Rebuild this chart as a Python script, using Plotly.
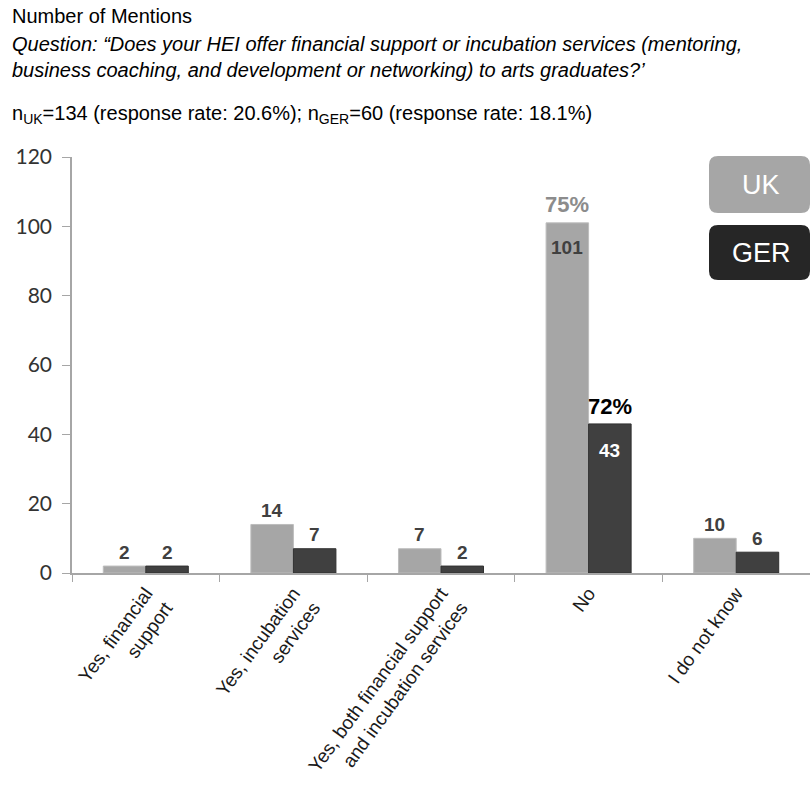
import plotly.graph_objects as go

categories = ["Yes, financial<br>support", "Yes, incubation<br>services",
              "Yes, both financial support<br>and incubation services", "No", "I do not know"]
uk_values = [2, 14, 7, 101, 10]
ger_values = [2, 7, 2, 43, 6]
pct_labels = {"No": ("75%", "72%")}
y_ticks = [0, 20, 40, 60, 80, 100, 120]

UK_COLOR = "#a6a6a6"
GER_COLOR = "#404040"
AXIS_COLOR = "#a6a6a6"

W, H = 810, 794
L, R, T, B = 72, 810, 157, 573


def px(x):
    return (x - L) / (R - L)


def py(y):
    return (B - y) / (B - T)


def rounded_rect(x0, y0, x1, y1, r):
    rx = r / (R - L)
    ry = r / (B - T)
    X0, X1 = px(x0), px(x1)
    Y0, Y1 = py(y0), py(y1)
    return (f"M {X0+rx},{Y0} L {X1-rx},{Y0} Q {X1},{Y0} {X1},{Y0-ry} "
            f"L {X1},{Y1+ry} Q {X1},{Y1} {X1-rx},{Y1} L {X0+rx},{Y1} "
            f"Q {X0},{Y1} {X0},{Y1+ry} L {X0},{Y0-ry} Q {X0},{Y0} {X0+rx},{Y0} Z")


fig = go.Figure()
fig.add_trace(go.Bar(
    x=categories, y=uk_values, name="UK",
    marker=dict(color=UK_COLOR, line=dict(color="#bdbdbd", width=1)),
))
fig.add_trace(go.Bar(
    x=categories, y=ger_values, name="GER",
    marker=dict(color=GER_COLOR, line=dict(color="#303030", width=1)),
))

annotations = []
bar_half = 21.3
LABEL_FONT = "Liberation Sans"
for c, u, g in zip(categories, uk_values, ger_values):
    if c in pct_labels:
        pu, pg = pct_labels[c]
        annotations += [
            dict(x=c, y=u, xref="x", yref="y", xshift=-bar_half, yshift=-25,
                 text=f"<b>{u}</b>", showarrow=False,
                 font=dict(family=LABEL_FONT, size=19, color="#404040")),
            dict(x=c, y=g, xref="x", yref="y", xshift=bar_half, yshift=-27,
                 text=f"<b>{g}</b>", showarrow=False,
                 font=dict(family=LABEL_FONT, size=19, color="white")),
            dict(x=c, y=u, xref="x", yref="y", xshift=-bar_half, yshift=18,
                 text=f"<b>{pu}</b>", showarrow=False,
                 font=dict(family=LABEL_FONT, size=22, color="#8c8c8c")),
            dict(x=c, y=g, xref="x", yref="y", xshift=bar_half, yshift=17,
                 text=f"<b>{pg}</b>", showarrow=False,
                 font=dict(family=LABEL_FONT, size=22, color="#000000")),
        ]
    else:
        for v, sh in ((u, -bar_half), (g, bar_half)):
            annotations.append(dict(
                x=c, y=v, xref="x", yref="y", xshift=sh, yshift=14, yanchor="middle",
                text=f"<b>{v}</b>", showarrow=False,
                font=dict(family=LABEL_FONT, size=19, color="#404040")))

header = [
    ("Number of Mentions", 16, False),
    ("Question: “Does your HEI offer financial support or incubation services (mentoring,", 44, True),
    ("business coaching, and development or networking) to arts graduates?’", 70, True),
    ("n<sub>UK</sub>=134 (response rate: 20.6%); n<sub>GER</sub>=60 (response rate: 18.1%)", 115, False),
]
for txt, yy, it in header:
    annotations.append(dict(
        x=px(10), y=py(yy), xref="paper", yref="paper", xanchor="left", yanchor="middle",
        text=f"<i>{txt}</i>" if it else txt, showarrow=False,
        font=dict(family="Liberation Sans", size=20, color="#000000"),
    ))

legend_items = [("UK", UK_COLOR, 156, 213), ("GER", "#262626", 225, 280)]
shapes = []
for name, col, y0, y1 in legend_items:
    shapes.append(dict(type="path", xref="paper", yref="paper",
                       path=rounded_rect(709, y0, 810, y1, 9),
                       fillcolor=col, line=dict(width=0)))
    annotations.append(dict(x=px(761), y=py((y0 + y1) / 2), xref="paper", yref="paper",
                            text=name, showarrow=False, xanchor="center", yanchor="middle",
                            font=dict(family="Liberation Sans", size=27, color="white")))

fig.update_layout(
    width=W, height=H,
    margin=dict(l=L, r=W - R, t=T, b=H - B),
    paper_bgcolor="white", plot_bgcolor="white",
    barmode="group", bargap=0.424, bargroupgap=0,
    showlegend=False,
    annotations=annotations, shapes=shapes,
    xaxis=dict(
        type="category", showline=True, linecolor=AXIS_COLOR, linewidth=1.5,
        ticks="outside", tickson="boundaries", ticklen=7, tickcolor=AXIS_COLOR,
        tickangle=-54, showgrid=False,
        tickfont=dict(family="Liberation Sans", size=19, color="#1a1a1a"),
    ),
    yaxis=dict(
        range=[0, 120], tickvals=y_ticks, showline=True, linecolor=AXIS_COLOR, linewidth=1.5,
        ticks="outside", ticklen=8, tickcolor=AXIS_COLOR, showgrid=False, zeroline=False,
        ticklabelstandoff=6,
        tickfont=dict(family="Lato", size=21, color="#333333"),
    ),
)

fig.write_html("out.html")
